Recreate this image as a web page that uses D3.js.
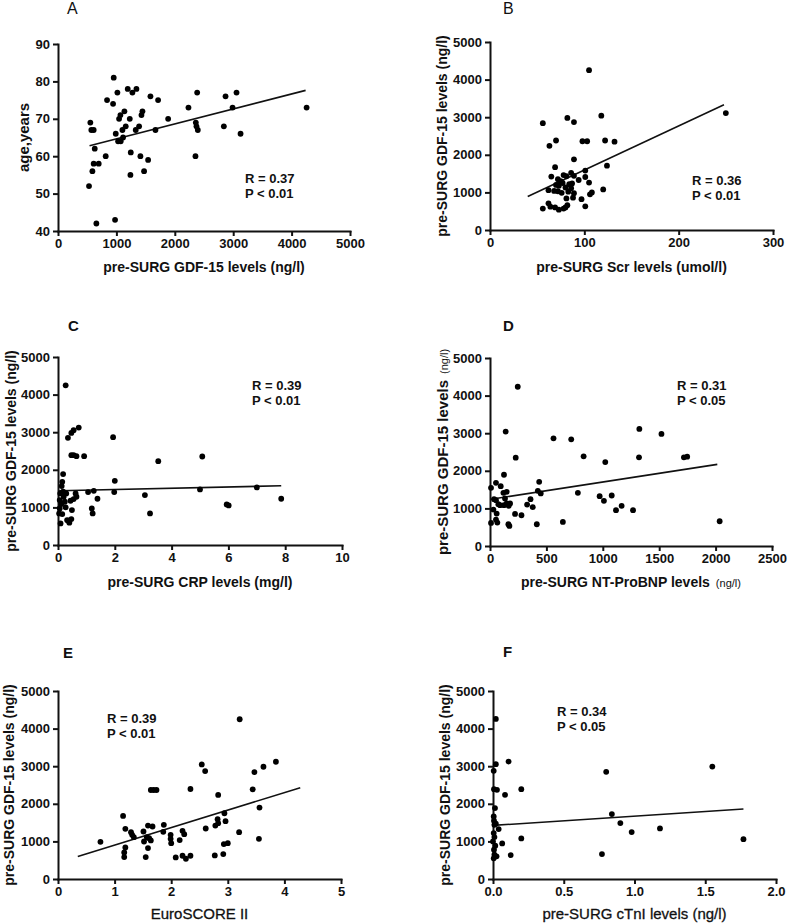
<!DOCTYPE html>
<html>
<head>
<meta charset="utf-8">
<script src="https://cdn.jsdelivr.net/npm/d3@7"></script>
<style>
  body { margin: 0; background: #fff; }
  svg text { font-family: "Liberation Sans", Arial, sans-serif; fill: #111; }
  .axis path, .axis line { stroke: #111; stroke-width: 2; }
  .axis text { font-size: 13px; font-weight: bold; }
</style>
</head>
<body>
<svg id="chart" width="787" height="923"></svg>
<script>
// values, one list per panel: [x, GDF-15 or age]
var ptsA = [[531,52],[554,69],[571,67],[611,67],[629,62],[589,56],[611,58],[697,58],[657,42],[817,60],
  [840,75],[943,74],[954,81],[989,66],[977,43],[1017,77],[1029,64],[1046,70],[1069,71],[1074,64],
  [1103,67],[1114,65],[1137,72],[1160,68],[1194,78],[1229,70],[1246,61],[1240,55],[1274,77],[1343,78],
  [1331,67],[1389,68],[1411,60],[1429,71],[1446,72],[1474,56],[1543,59],[1583,76],[1669,67],[1714,75],
  [1886,70],[2234,73],[2354,60],[2360,69],[2371,68],[2383,77],[2394,67],[2840,68],[2869,76],[2989,73],
  [3057,77],[3126,66],[4257,73]];
var fitA = [[540,62.8],[4240,77.6]];

var ptsB = [[56,2840],[63,2240],[70,2380],[82,2980],[89,2870],[98,2360],[103,2360],[105,4250],[118,3040],
  [122,2380],[132,2350],[250,3110],[89,1880],[69,1670],[124,1710],[101,1580],[65,1420],[86,1520],
  [78,1460],[81,1430],[89,1440],[72,1350],[75,1300],[77,1250],[84,1220],[87,1240],[94,1330],[101,1410],
  [105,1260],[70,1200],[73,1180],[80,1130],[86,1110],[62,1060],[68,1040],[72,1030],[76,990],[83,1020],
  [89,980],[106,950],[108,1000],[120,1080],[88,860],[97,820],[81,840],[56,570],[62,710],[64,620],
  [69,600],[73,540],[78,570],[80,600],[82,660],[101,630]];
var fitB = [[40,890],[248,3330]];

var ptsC = [[0.27,4248],[0.35,2850],[0.47,2982],[0.55,3053],[0.73,3124],[0.47,2389],[0.55,2389],
  [0.65,2363],[0.92,2363],[1.94,2867],[3.53,2230],[5.08,2354],[0.18,1885],[0.15,1681],[0.13,1566],
  [2.0,1708],[1.98,1407],[1.06,1407],[1.26,1442],[1.39,1230],[3.06,1327],[3.24,840],[1.19,973],
  [1.22,840],[5.0,1478],[7.0,1531],[7.86,1230],[5.94,1080],[6.01,1053],[0.62,1372],[0.65,1283],
  [0.55,1221],[0.44,1177],[0.49,929],[0.47,690],[0.36,646],[0.40,593],[0.32,664],[0.09,575],
  [0.06,973],[0.06,1195],[0.08,1372],[0.12,1088],[0.15,823],[0.2,1283],[0.24,1150],[0.27,1000],
  [0.18,1416],[0.29,1372],[0.04,840]];
var fitC = [[0.04,1442],[7.86,1575]];

var ptsD = [[246,4235],[139,3043],[563,2865],[720,2838],[228,2349],[830,2384],[1022,2233],[1324,3114],
  [1321,2358],[1520,2980],[1719,2358],[1748,2375],[2036,658],[124,1895],[436,1708],[424,1468],
  [450,1397],[779,1415],[972,1326],[1010,1201],[1079,1343],[1167,1068],[1117,952],[1268,952],
  [646,641],[415,578],[359,1245],[329,1103],[379,1032],[222,854],[279,818],[9,1548],[53,1681],
  [95,1592],[119,1415],[148,1441],[133,1263],[148,1130],[124,1085],[178,1130],[166,1068],[36,1245],
  [53,1219],[74,1112],[30,970],[59,863],[9,614],[53,703],[65,623],[163,578],[172,534],[89,1085]];
var fitD = [[9,1245],[2015,2171]];

var ptsE = [[0.75,989],[1.15,1678],[1.19,1334],[1.19,839],[1.17,707],[1.17,583],[1.29,1246],[1.31,1175],
  [1.34,1113],[1.51,1263],[1.52,998],[1.55,583],[1.59,1422],[1.57,1113],[1.59,822],[1.61,1087],
  [1.64,1025],[1.67,1396],[1.64,2367],[1.69,2367],[1.74,2367],[1.87,1440],[1.86,1254],[1.99,1175],
  [1.99,1069],[2.0,954],[2.08,574],[2.15,1034],[2.20,1281],[2.23,1193],[2.20,618],[2.26,539],
  [2.34,618],[2.34,2394],[2.54,3048],[2.60,2871],[2.61,1343],[2.77,627],[2.78,1422],[2.82,1590],
  [2.83,1484],[2.83,2235],[2.93,928],[2.94,1749],[2.96,1537],[3.0,954],[2.92,663],[3.21,4249],
  [3.2,1246],[3.44,2385],[3.47,2844],[3.55,1069],[3.56,1899],[3.63,2986],[3.85,3118]];
var fitE = [[0.35,600],[4.28,2429]];

var ptsF = [[0.02,4257],[0.02,3053],[0.005,2876],[0.007,2389],[0.028,2372],[0.11,3124],[0.085,2239],
  [0.2,2389],[0.014,1885],[0.005,1664],[0.007,1549],[0.01,1442],[0.02,1469],[0.04,1327],[0.005,1221],
  [0.01,1115],[0,1000],[0.016,885],[0.007,779],[0.01,646],[0.005,549],[0.025,602],[0.065,947],
  [0.125,637],[0.2,1080],[0.77,664],[0.80,2850],[0.84,1726],[0.90,1487],[0.98,1248],[1.18,1345],
  [1.55,2991],[1.77,1060]];
var fitF = [[0,1425],[1.77,1860]];

// tick values
var gdfTicks = [0,1000,2000,3000,4000,5000];
var ageTicks = [40,50,60,70,80,90];
var ticksAx = [0,1000,2000,3000,4000,5000];
var ticksBx = [0,100,200,300];
var ticksCx = [0,2,4,6,8,10];
var ticksDx = [0,500,1000,1500,2000,2500];
var ticksEx = [0,1,2,3,4,5];
var ticksFx = [0,0.5,1,1.5,2];

var rText = ["R = 0.37","R = 0.36","R = 0.39","R = 0.31","R = 0.39","R = 0.34"];
var pText = ["P < 0.01","P < 0.01","P < 0.01","P < 0.05","P < 0.01","P < 0.05"];

var svg = d3.select("#chart");

var panels = [
  { name:"A", bold:false, pts:ptsA, fit:fitA, xd:[0,5000], yd:[40,90], xt:ticksAx, yt:ageTicks,
    l:58, r:350, t:44, b:231, lab:[67,14], rp:[245,183], ylab:"age,years", ylx:29, yfs:15,
    xlab:"pre-SURG GDF-15 levels (ng/l)", xly:272 },
  { name:"B", bold:false, pts:ptsB, fit:fitB, xd:[0,300], yd:[0,5000], xt:ticksBx, yt:gdfTicks,
    l:490, r:773, t:42, b:230, lab:[503,14], rp:[692,185], ylab:"pre-SURG GDF-15 levels (ng/l)", ylx:447, yfs:14,
    xlab:"pre-SURG Scr levels (umol/l)", xly:272 },
  { name:"C", bold:true, pts:ptsC, fit:fitC, xd:[0,10], yd:[0,5000], xt:ticksCx, yt:gdfTicks,
    l:58, r:342, t:357, b:545, lab:[68,331], rp:[252,390], ylab:"pre-SURG GDF-15 levels (ng/l)", ylx:16, yfs:14,
    xlab:"pre-SURG CRP levels (mg/l)", xly:587 },
  { name:"D", bold:true, pts:ptsD, fit:fitD, xd:[0,2500], yd:[0,5000], xt:ticksDx, yt:gdfTicks,
    l:490, r:772, t:358, b:546, lab:[503,331], rp:[677,390], ylab:"pre-SURG GDF-15 levels", ysub:"(ng/l)", ylx:448, yfs:15,
    xlab:"pre-SURG NT-ProBNP levels", xsub:"(ng/l)", xly:587 },
  { name:"E", bold:true, pts:ptsE, fit:fitE, xd:[0,5], yd:[0,5000], xt:ticksEx, yt:gdfTicks,
    l:58, r:341, t:691, b:879, lab:[63,658], rp:[107,723], ylab:"pre-SURG GDF-15 levels (ng/l)", ylx:14, yfs:14,
    xlab:"EuroSCORE II", xly:919, xnorm:true },
  { name:"F", bold:true, pts:ptsF, fit:fitF, xd:[0,2], yd:[0,5000], xt:ticksFx, yt:gdfTicks,
    l:493, r:776, t:691, b:879, lab:[503,657], rp:[557,716], ylab:"pre-SURG GDF-15 levels (ng/l)", ylx:450, yfs:14,
    xlab:"pre-SURG cTnI levels (ng/l)", xly:919, xnorm:true }
];

panels.forEach(function(p, i) {
  var x = d3.scaleLinear().domain(p.xd).range([p.l, p.r]);
  var y = d3.scaleLinear().domain(p.yd).range([p.b, p.t]);
  var g = svg.append("g");

  var xAxis = d3.axisBottom(x).tickValues(p.xt).tickSize(5).tickSizeOuter(0).tickPadding(3);
  if (p.name == "F") xAxis.tickFormat(d3.format(".1f"));
  else xAxis.tickFormat(d3.format("d"));
  g.append("g").attr("class","axis").attr("transform","translate(0," + p.b + ")").call(xAxis);

  var yAxis = d3.axisLeft(y).tickValues(p.yt).tickSize(5).tickSizeOuter(0).tickPadding(3).tickFormat(d3.format("d"));
  g.append("g").attr("class","axis").attr("transform","translate(" + p.l + ",0)").call(yAxis);

  g.selectAll(".axis text").attr("font-family", null);
  g.selectAll(".axis path").attr("stroke-linecap","square");

  // regression line
  g.append("line")
    .attr("x1", x(p.fit[0][0])).attr("y1", y(p.fit[0][1]))
    .attr("x2", x(p.fit[1][0])).attr("y2", y(p.fit[1][1]))
    .attr("stroke","#111").attr("stroke-width",1.6);

  // points
  g.selectAll("circle").data(p.pts).enter().append("circle")
    .attr("cx", function(d) { return x(d[0]); })
    .attr("cy", function(d) { return y(d[1]); })
    .attr("r", 2.9).attr("fill","#000");

  // panel letter
  g.append("text").attr("x", p.lab[0]).attr("y", p.lab[1])
    .attr("font-size", p.bold ? 15 : 16).attr("font-weight", p.bold ? "bold" : "normal")
    .text(p.name);

  // R / P
  g.append("text").attr("x", p.rp[0]).attr("y", p.rp[1]).attr("font-size",13).attr("font-weight","bold").text(rText[i]);
  g.append("text").attr("x", p.rp[0]).attr("y", p.rp[1] + 15).attr("font-size",13).attr("font-weight","bold").text(pText[i]);

  // y label
  var yl = g.append("text").attr("transform","translate(" + p.ylx + "," + ((p.t + p.b) / 2) + ") rotate(-90)")
    .attr("text-anchor","middle").attr("font-size", p.yfs).attr("font-weight","bold");
  yl.append("tspan").text(p.ylab);
  if (p.ysub) yl.append("tspan").attr("font-size",11).attr("font-weight","normal").attr("dx",6).text(p.ysub);

  // x label
  var xl = g.append("text").attr("x", (p.l + p.r) / 2).attr("y", p.xly)
    .attr("text-anchor","middle").attr("font-size", p.xnorm ? 15 : 14).attr("font-weight", p.xnorm ? "normal" : "bold");
  if (p.xnorm) xl.attr("stroke","#111").attr("stroke-width",0.3);
  xl.append("tspan").text(p.xlab);
  if (p.xsub) xl.append("tspan").attr("font-size",11).attr("font-weight","normal").attr("dx",6).text(p.xsub);
});
</script>
</body>
</html>
